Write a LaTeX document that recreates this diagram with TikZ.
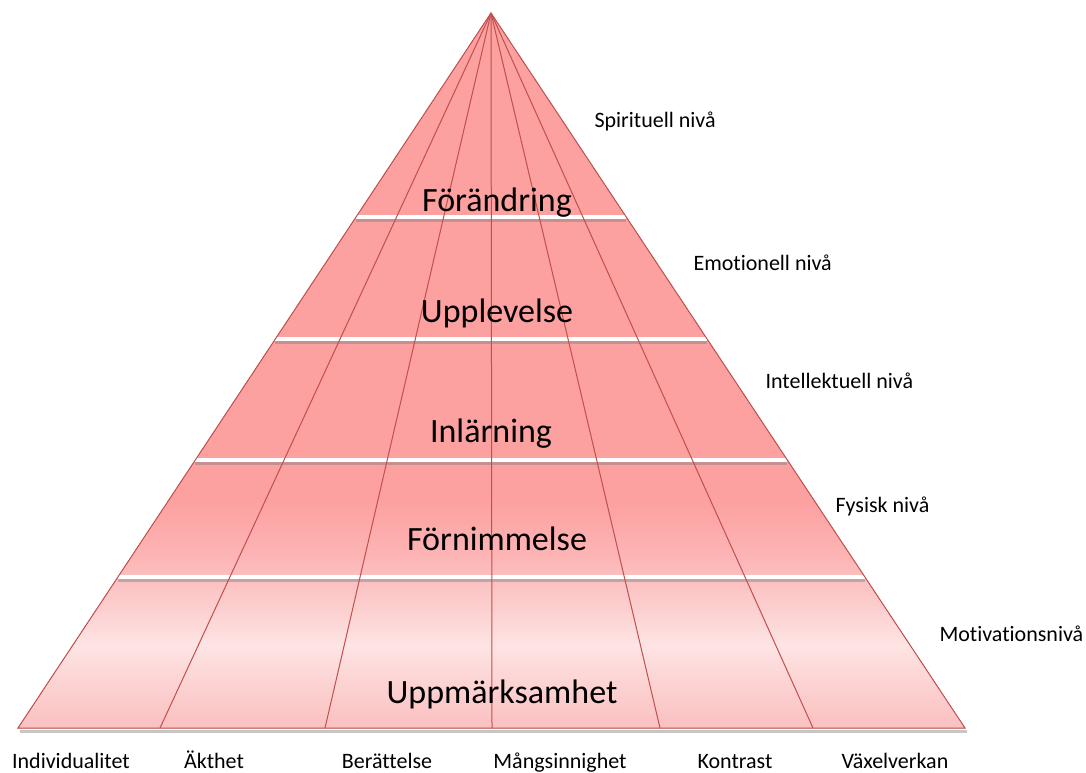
\documentclass[tikz,border=0pt]{standalone}
\usepackage{fontspec}
\setmainfont{Carlito}[Ligatures={NoCommon}]
\usetikzlibrary{calc}
\definecolor{LR}{RGB}{192,80,77}
\definecolor{P1}{RGB}{253,160,160}
\definecolor{P2}{RGB}{253,182,182}
\definecolor{P3}{RGB}{251,192,192}
\definecolor{P4}{RGB}{252,208,208}
\definecolor{P5}{RGB}{254,228,228}
\definecolor{P6}{RGB}{252,202,202}
\pgfdeclareverticalshading{pyr}{100bp}{color(0bp)=(P3); color(25bp)=(P3); color(27.7bp)=(P4); color(30.8bp)=(P5); color(34bp)=(P6); color(35.5bp)=(P3); color(36.8bp)=(P2); color(40.9bp)=(P1); color(100bp)=(P1)}
\tikzset{
    LV/.style ={font=\fontsize{34}{40}\selectfont, anchor=base},
    NV/.style ={font=\fontsize{22}{26}\selectfont, anchor=base west},
    KV/.style ={font=\fontsize{22}{26}\selectfont, anchor=base},
    WL/.style ={draw=white, line width=3.5pt},
    SH/.style ={draw=black!50, opacity=.45, line width=3pt},
    RL/.style ={draw=LR, line width=1pt}}

\begin{document}
\begin{tikzpicture}[x=1pt,y=-1pt]
        \useasboundingbox (0,0) rectangle (1086,772);
        \coordinate (apex) at (491,13);
        \coordinate (bl) at (18,728);
        \coordinate (br) at (965,728);
        % pyramid
        \draw[SH] ($(bl)+(2,3)$) -- ($(br)+(2,3)$);
        \fill[shading=pyr] (apex) -- (bl) -- (br) -- cycle;
        \foreach \t in {0.285,0.456,0.625,0.789}{
            \draw[SH] ($(apex)!\t!(bl)+(0,3.5)$) -- ($(apex)!\t!(br)+(0,3.5)$);
            \draw[WL] ($(apex)!\t!(bl)$) -- ($(apex)!\t!(br)$);
        }
        \foreach \x/\n in {160/b1,325/b2,492/b3,660/b4,813/b5}{
            \coordinate (\n) at (\x,728);
            \draw[RL] (apex) -- (\n);
        }
        \draw[RL] (apex) -- (bl) -- (br) -- cycle;
        % levels
        \node[LV] (forandring) at (497,211){Förändring};
        \node[LV] (upplevelse) at (497,322){Upplevelse};
        \node[LV] (inlarning) at (491,442){Inlärning};
        \node[LV] (fornimmelse) at (497,550){Förnimmelse};
        \node[LV] (uppmarksamhet) at (502,703){Uppmärksamhet};
        % right side
        \node[NV] (spirituell) at (591,127){Spirituell nivå};
        \node[NV] (emotionell) at (690,270){Emotionell nivå};
        \node[NV] (intellektuell) at (762,388){Intellektuell nivå};
        \node[NV] (fysisk) at (832,512){Fysisk nivå};
        \node[NV] (motivation) at (936,641){Motivationsnivå};
        % bottom
        \node[KV] (individ) at (71,768){Individualitet};
        \node[KV] (akthet) at (214,768){Äkthet};
        \node[KV] (berattelse) at (387,768){Berättelse};
        \node[KV] (mangsinn) at (560,768){Mångsinnighet};
        \node[KV] (kontrast) at (735,768){Kontrast};
        \node[KV] (vaxel) at (895,768){Växelverkan};
    \end{tikzpicture}
\end{document}
